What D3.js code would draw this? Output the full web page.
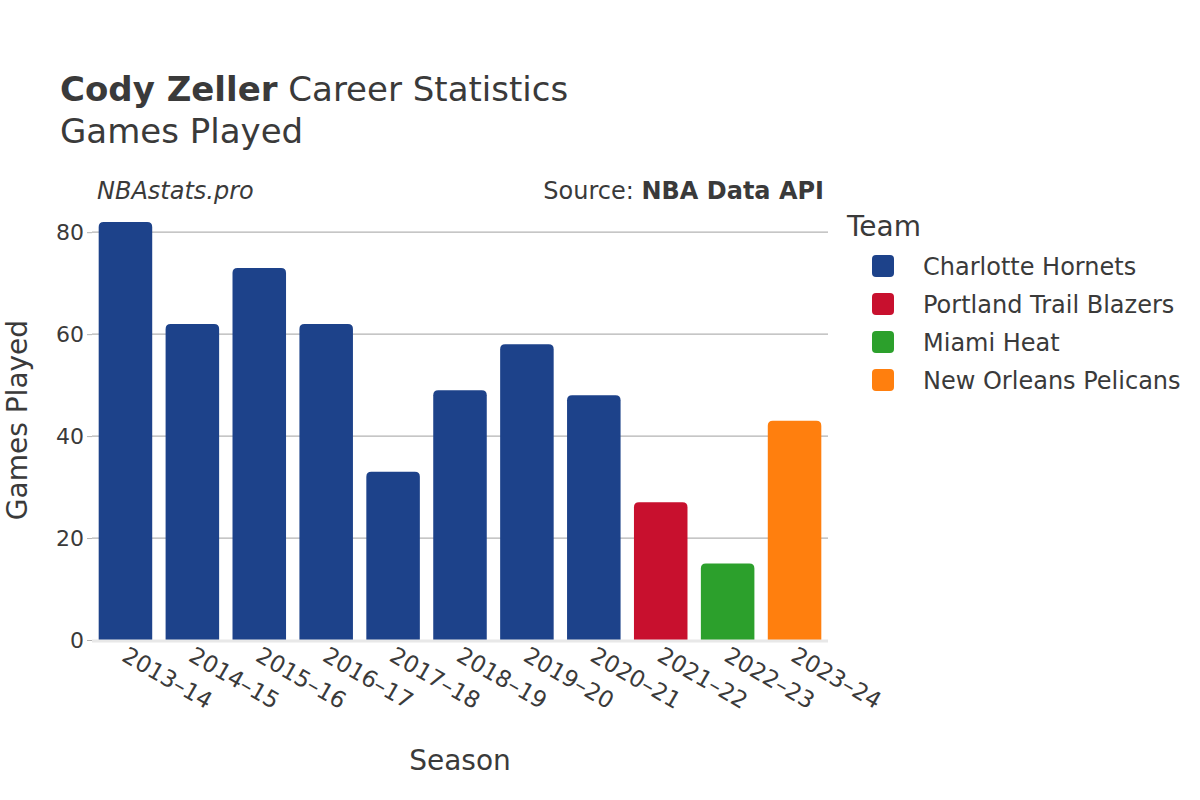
<!DOCTYPE html>
<html><head><meta charset="utf-8">
<script src="https://cdn.jsdelivr.net/npm/d3@7"></script>
<style>
body{margin:0;background:#fff;}
text{font-family:"DejaVu Sans",sans-serif;fill:#3a3a3a;}
</style></head>
<body><svg id="c" width="1200" height="800"></svg>
<script>
const seasons = ["2013–14","2014–15","2015–16","2016–17","2017–18","2018–19","2019–20","2020–21","2021–22","2022–23","2023–24"];
const games = [82,62,73,62,33,49,58,48,27,15,43];
const teams = ["Charlotte Hornets","Charlotte Hornets","Charlotte Hornets","Charlotte Hornets","Charlotte Hornets","Charlotte Hornets","Charlotte Hornets","Charlotte Hornets","Portland Trail Blazers","Miami Heat","New Orleans Pelicans"];
const legendTeams = ["Charlotte Hornets","Portland Trail Blazers","Miami Heat","New Orleans Pelicans"];
const teamColors = ["#1d428a","#c8102e","#2ca02c","#ff7f0e"];
const yTicks = [0,20,40,60,80];

const svg = d3.select("#c");
const L=92,R=828,T=222,B=640;
const x = d3.scaleBand().domain(seasons).range([L,R]).paddingInner(0.2).paddingOuter(0.1);
const y = d3.scaleLinear().domain([0,82]).range([B,T]);
const color = d3.scaleOrdinal().domain(legendTeams).range(teamColors);

// gridlines
svg.append("g").selectAll("line").data(yTicks.filter(d=>d>0)).join("line")
  .attr("x1",L).attr("x2",R).attr("y1",d=>y(d)).attr("y2",d=>y(d))
  .attr("stroke","#b3b3b3").attr("stroke-width",1.2);

// bars with rounded top
const r=5;
svg.append("g").selectAll("path").data(seasons).join("path")
  .attr("fill",(d,i)=>color(teams[i]))
  .attr("d",(d,i)=>{
    const x0=x(d), w=x.bandwidth(), y0=y(games[i]), y1=y(0);
    return `M${x0},${y1}V${y0+r}Q${x0},${y0} ${x0+r},${y0}H${x0+w-r}Q${x0+w},${y0} ${x0+w},${y0+r}V${y1}Z`;
  });

// baseline
svg.append("line").attr("x1",L).attr("x2",R).attr("y1",B+1).attr("y2",B+1)
  .attr("stroke","#e8e8e8").attr("stroke-width",3);

// y axis
const ya = svg.append("g").attr("transform",`translate(${L},0)`)
  .call(d3.axisLeft(y).tickValues(yTicks).tickSize(5).tickPadding(3));
ya.select(".domain").remove();
ya.selectAll("line").attr("stroke","#b3b3b3");
ya.selectAll("text").attr("font-size",22).attr("fill","#3a3a3a").style("font-family","DejaVu Sans");

// x axis
const xa = svg.append("g").attr("transform",`translate(0,${B})`)
  .call(d3.axisBottom(x).tickSize(0));
xa.select(".domain").remove();
xa.selectAll("text").attr("font-size",23).attr("fill","#3a3a3a").style("font-family","DejaVu Sans")
  .attr("text-anchor","start").attr("dy",0).attr("y",0)
  .attr("transform","translate(-5,20) rotate(30)");

// titles
const t = svg.append("text").attr("x",60).attr("y",101).attr("font-size",34);
t.append("tspan").attr("font-weight","bold").text("Cody Zeller");
t.append("tspan").text(" Career Statistics");
svg.append("text").attr("x",60).attr("y",143).attr("font-size",34).text("Games Played");

svg.append("text").attr("x",97).attr("y",199).attr("font-size",24).attr("font-style","italic").text("NBAstats.pro");
const s = svg.append("text").attr("x",824).attr("y",199).attr("font-size",24).attr("text-anchor","end");
s.append("tspan").text("Source: ");
s.append("tspan").attr("font-weight","bold").text("NBA Data API");

svg.append("text").attr("transform","translate(27,420) rotate(-90)").attr("text-anchor","middle")
  .attr("font-size",28).text("Games Played");
svg.append("text").attr("x",460).attr("y",770).attr("text-anchor","middle").attr("font-size",28).text("Season");

// legend
svg.append("text").attr("x",847).attr("y",236).attr("font-size",28).text("Team");
const lg = svg.append("g").selectAll("g").data(legendTeams).join("g")
  .attr("transform",(d,i)=>`translate(872,${266+i*38})`);
lg.append("rect").attr("x",0).attr("y",-11).attr("width",22).attr("height",22).attr("rx",4)
  .attr("fill",d=>color(d));
lg.append("text").attr("x",51).attr("y",9).attr("font-size",24).text(d=>d);
</script></body></html>
